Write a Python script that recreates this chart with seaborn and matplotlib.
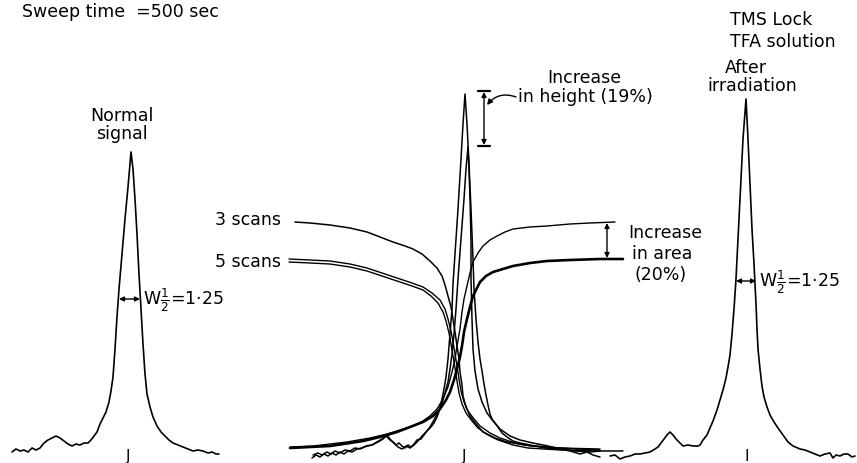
import matplotlib
matplotlib.use("Agg")
import matplotlib.pyplot as plt
import seaborn as sns

# ------------------------------------------------------------------
# Traced spectrum points (x right, y down)
# ------------------------------------------------------------------

# normal signal (left)
normal_pts = [(12, 453), (16, 450), (20, 452), (24, 451), (28, 453), (32, 449), (36, 451),
              (40, 449), (44, 444), (48, 441), (52, 439), (56, 437), (60, 439), (64, 442),
              (68, 445), (72, 447), (76, 445), (80, 446), (84, 444), (88, 444), (91, 441),
              (94, 437), (97, 433), (100, 425), (103, 419), (106, 413), (109, 403), (111, 392),
              (113, 378), (115, 350), (117, 318), (119, 290), (122, 255), (125, 220), (128, 188),
              (131, 153), (133, 170), (135, 200), (137, 235), (139, 275), (141, 310), (143, 345),
              (145, 375), (147, 395), (150, 408), (153, 418), (157, 427), (161, 433), (165, 437),
              (169, 441), (173, 444), (178, 446), (183, 448), (188, 450), (193, 452), (198, 451),
              (203, 452), (208, 454), (212, 453), (216, 455), (219, 455)]

# integral, 3 scans (falling)
int3_fall = [(295, 223), (310, 224), (330, 226), (350, 229), (367, 233), (380, 238), (393, 243),
             (405, 247), (413, 250), (422, 255), (430, 262), (437, 269), (442, 277), (445, 286),
             (448, 297), (451, 308), (453, 320), (455, 333), (457, 347), (459, 360), (460, 373),
             (462, 386), (463, 397), (466, 408), (470, 417), (476, 425), (483, 433), (495, 439),
             (507, 443), (525, 446), (547, 448), (575, 450), (600, 451)]

# integral, 5 scans (falling, doubled pen line)
int5_fall_a = [(289, 260), (310, 261), (330, 262), (350, 265), (367, 269), (385, 275), (400, 280),
               (412, 284), (423, 288), (432, 294), (440, 301), (445, 310), (448, 320), (451, 332),
               (453, 343), (455, 355), (457, 367), (459, 380), (461, 392), (464, 403), (468, 412),
               (474, 420), (480, 427), (490, 434), (500, 439), (515, 444), (530, 447), (560, 449),
               (600, 450)]
int5_fall_b = [(289, 263), (310, 264), (330, 265), (350, 268), (367, 272), (385, 278), (400, 283),
               (412, 287), (423, 291), (431, 297), (438, 304), (443, 313), (446, 322), (449, 334),
               (451, 345), (453, 357), (455, 369), (457, 382), (459, 394), (462, 405), (466, 414),
               (472, 422), (478, 429), (488, 436), (498, 441), (513, 446), (528, 449), (560, 451),
               (600, 452)]

# integral, 3 scans (rising)
int3_rise = [(290, 448), (313, 447), (347, 443), (370, 439), (387, 435), (400, 431), (413, 427),
             (423, 422), (430, 417), (437, 410), (443, 400), (448, 388), (452, 373), (455, 360),
             (457, 347), (460, 330), (462, 313), (464, 300), (467, 287), (470, 274), (473, 263),
             (478, 254), (483, 247), (490, 241), (497, 237), (505, 233), (513, 230), (530, 228),
             (547, 227), (570, 225), (590, 224), (615, 223)]

# integral, 5 scans (rising)
int5_rise = [(290, 449), (310, 448), (330, 447), (350, 444), (363, 442), (380, 438), (397, 433),
             (410, 428), (423, 423), (433, 417), (440, 410), (446, 401), (450, 393), (454, 381),
             (457, 370), (460, 358), (462, 347), (464, 333), (467, 320), (470, 308), (473, 297),
             (477, 289), (480, 283), (486, 277), (493, 273), (503, 270), (513, 267), (530, 264),
             (547, 262), (570, 261), (600, 260), (623, 260)]

# accumulated peak (taller)
peak_tall = [(313, 456), (318, 454), (322, 456), (327, 453), (331, 455), (335, 452), (340, 454),
             (345, 451), (350, 452), (355, 449), (360, 450), (366, 447), (372, 446), (378, 443),
             (383, 440), (387, 436), (390, 440), (393, 443), (396, 446), (399, 444), (402, 447),
             (405, 449), (408, 446), (411, 448), (414, 445), (417, 441), (421, 440), (424, 436),
             (427, 432), (431, 428), (434, 424), (437, 418), (440, 410), (442, 400), (444, 390),
             (446, 378), (448, 360), (450, 335), (452, 310), (453, 285), (455, 255), (458, 210),
             (461, 160), (463, 125), (465, 95), (467, 125), (469, 165), (471, 210), (473, 260),
             (474, 290), (476, 320), (478, 343), (480, 360), (482, 372), (484, 385), (486, 396),
             (488, 406), (490, 415), (492, 420), (495, 424), (498, 428), (502, 434), (507, 438),
             (513, 442), (520, 444), (530, 446), (545, 449), (560, 450), (575, 452), (590, 453),
             (600, 452), (623, 452)]

# single peak (shorter)
peak_short = [(312, 459), (316, 456), (320, 458), (324, 455), (328, 457), (332, 454), (336, 456),
              (340, 453), (344, 455), (348, 452), (352, 453), (357, 450), (362, 449), (367, 447),
              (372, 446), (377, 443), (382, 440), (386, 437), (390, 441), (394, 444), (398, 448),
              (402, 450), (406, 447), (410, 449), (414, 446), (418, 442), (422, 437), (426, 433),
              (430, 428), (434, 421), (438, 413), (442, 404), (445, 394), (448, 383), (450, 370),
              (452, 355), (454, 335), (456, 310), (458, 280), (461, 240), (464, 200), (466, 170),
              (468, 148), (469, 170), (470, 200), (471, 240), (471, 280), (472, 320), (473, 350),
              (475, 372), (478, 390), (482, 403), (487, 414), (493, 422), (500, 430), (510, 437),
              (520, 441), (533, 444), (548, 447), (560, 450), (570, 452), (580, 455), (587, 453),
              (593, 456), (600, 458)]

# after irradiation (right)
after_pts = [(610, 457), (615, 456), (620, 460), (625, 458), (630, 457), (635, 455), (640, 455),
             (645, 454), (650, 453), (655, 450), (658, 448), (661, 444), (664, 440), (667, 436),
             (670, 433), (673, 436), (676, 440), (680, 444), (683, 447), (688, 446), (693, 447),
             (698, 447), (700, 446), (703, 441), (707, 436), (710, 429), (713, 422), (717, 411),
             (720, 401), (723, 391), (726, 379), (728, 368), (730, 356), (732, 335), (734, 310),
             (736, 280), (738, 240), (741, 180), (743, 140), (746, 100), (748, 140), (750, 185),
             (752, 230), (754, 265), (755, 285), (756, 305), (757, 330), (758, 350), (760, 370),
             (762, 387), (764, 398), (767, 408), (770, 416), (774, 423), (778, 429), (783, 436),
             (788, 443), (793, 447), (800, 450), (805, 451), (810, 453), (815, 455), (820, 457),
             (825, 455), (830, 454), (833, 459), (836, 456), (840, 457), (844, 455), (848, 455),
             (852, 458), (855, 457)]

# half-height widths (x_left, x_right, y) and brackets (x, y_top, y_bottom)
half_width_normal = (119, 140, 300)
half_width_after = (736, 756, 282)
height_bracket = (484, 92, 147)
area_bracket = (607, 223, 260)

# ------------------------------------------------------------------
# Plot
# ------------------------------------------------------------------
sns.set_theme(style="white")
plt.rcParams["font.family"] = ["DejaVu Sans"]
plt.rcParams["mathtext.fontset"] = "dejavusans"

fig = plt.figure(figsize=(8.57, 4.64), dpi=100)
ax = fig.add_axes([0, 0, 1, 1])

traces = [
    (normal_pts, 1.2), (int3_fall, 1.1), (int5_fall_a, 1.0), (int5_fall_b, 1.0),
    (int3_rise, 1.0), (int5_rise, 1.9), (peak_tall, 1.1), (peak_short, 1.1),
    (after_pts, 1.2),
]
for pts, lw in traces:
    xs, ys = zip(*pts)
    sns.lineplot(x=list(xs), y=list(ys), sort=False, estimator=None,
                 color="black", linewidth=lw, ax=ax)

ax.set_xlim(0, 857)
ax.set_ylim(464, 0)
ax.axis("off")

arrow = dict(arrowstyle="<|-|>", color="black", lw=1.0, mutation_scale=7,
             shrinkA=0, shrinkB=0)

# half widths
for x0, x1, y in (half_width_normal, half_width_after):
    ax.annotate("", xy=(x0, y), xytext=(x1, y), arrowprops=arrow)

# height bracket with curved leader
bx, by0, by1 = height_bracket
ax.annotate("", xy=(bx, by0 + 1), xytext=(bx, by1 - 1), arrowprops=arrow)
for yy in (by0, by1):
    ax.plot([bx - 6, bx + 6], [yy, yy], color="black", lw=1.6)
ax.annotate("", xy=(bx + 3, 106), xytext=(516, 98),
            arrowprops=dict(arrowstyle="-|>", color="black", lw=1.0, mutation_scale=8,
                            shrinkA=0, shrinkB=0, connectionstyle="arc3,rad=0.35"))

# area bracket
ax_x, ay0, ay1 = area_bracket
ax.annotate("", xy=(ax_x, ay0 + 1), xytext=(ax_x, ay1 - 1), arrowprops=arrow)

# text
txt = dict(color="black", fontsize=12.5, va="center")
ax.text(22, 12, "Sweep time  =500 sec", ha="left", **txt)
ax.text(122, 116, "Normal", ha="center", **txt)
ax.text(122, 134, "signal", ha="center", **txt)
ax.text(281, 220, "3 scans", ha="right", **txt)
ax.text(281, 262, "5 scans", ha="right", **txt)
ax.text(547, 78, "Increase", ha="left", **txt)
ax.text(518, 97, "in height (19%)", ha="left", **txt)
ax.text(628, 233, "Increase", ha="left", **txt)
ax.text(632, 254, "in area", ha="left", **txt)
ax.text(635, 275, "(20%)", ha="left", **txt)
ax.text(730, 20, "TMS Lock", ha="left", **txt)
ax.text(730, 42, "TFA solution", ha="left", **txt)
ax.text(746, 68, "After", ha="center", **txt)
ax.text(752, 86, "irradiation", ha="center", **txt)
ax.text(143, 300, r"W$\frac{1}{2}$=1·25", ha="left", **txt)
ax.text(759, 282, r"W$\frac{1}{2}$=1·25", ha="left", **txt)
for jx, mark in ((128, "J"), (464, "J"), (747, "I")):
    ax.text(jx, 457, mark, ha="center", color="black", fontsize=11, va="center")

fig.savefig("out.png", dpi=100, facecolor="white")
